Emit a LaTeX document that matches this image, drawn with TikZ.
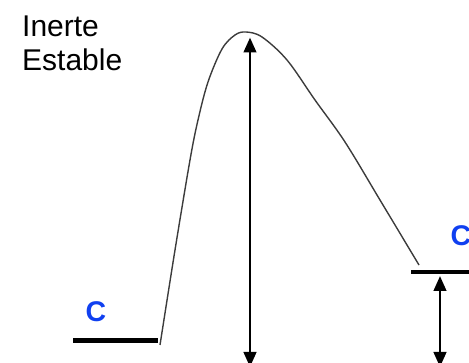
\documentclass[tikz,border=0pt]{standalone}
\usepackage{fontspec}
\setmainfont{Liberation Sans}
\usetikzlibrary{arrows.meta}
\definecolor{cblue}{RGB}{16,64,240}
\definecolor{curvegray}{RGB}{60,60,60}
\tikzset{
  lbl/.style={anchor=base west, inner sep=0pt, font=\fontsize{30}{34}\selectfont},
  clbl/.style={anchor=base west, inner sep=0pt, text=cblue, font=\fontsize{28.5}{32}\selectfont\bfseries},
  level/.style={line width=4.5pt},
  dimarrow/.style={line width=2.8pt, {Triangle[width=12.5pt,length=15pt]}-{Triangle[width=12.5pt,length=15pt]}},
  energycurve/.style={curvegray, line width=1.4pt}
}
\begin{document}
\begin{tikzpicture}[x=1pt,y=-1pt]
\useasboundingbox (0,0) rectangle (469,363);
% labels
\node[lbl] (inerte) at (22,37) {Inerte};
\node[lbl] (estable) at (22,71) {Estable};
\node[clbl] (cleft) at (85.5,322) {C};
\node[clbl] (cright) at (450.5,245.5) {C};
% energy levels
\coordinate (l1) at (73,340.5);
\coordinate (l2) at (158,340.5);
\coordinate (r1) at (411,272);
\coordinate (r2) at (472,272);
\draw[level] (l1) -- (l2);
\draw[level] (r1) -- (r2);
% curve
\draw[energycurve] plot[smooth, tension=0.55] coordinates {
 (160,345) (175,250) (190,160) (198,120) (208,82)
 (222,49) (235,35) (246,32) (262,37) (287,60) (315,100)
 (345,142) (380,200) (419,265)};
% dimension arrows
\coordinate (a1top) at (250,37.5);
\coordinate (a1bot) at (250,367);
\coordinate (a2top) at (440,276);
\coordinate (a2bot) at (440,367);
\draw[dimarrow] (a1top) -- (a1bot);
\draw[dimarrow] (a2top) -- (a2bot);
\end{tikzpicture}
\end{document}
